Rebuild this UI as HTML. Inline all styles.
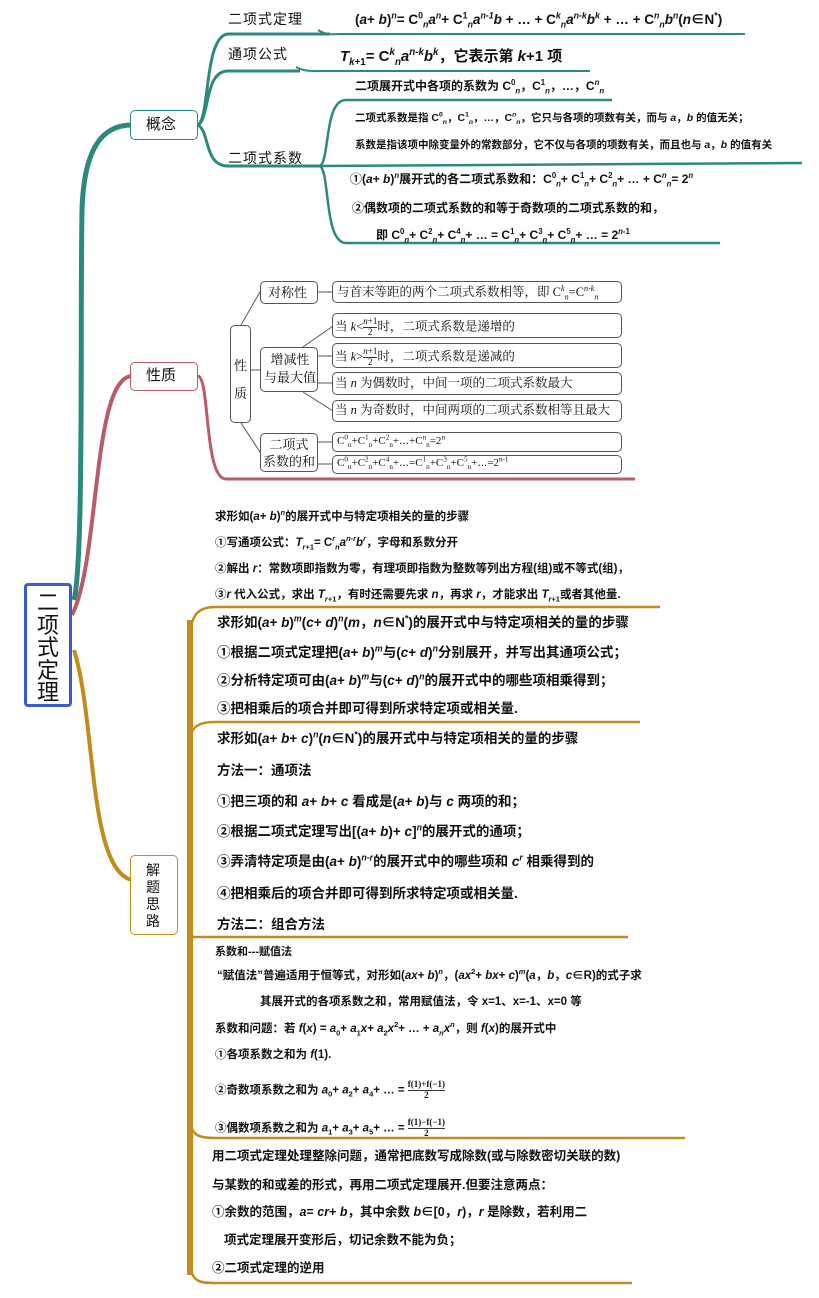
<!DOCTYPE html>
<html><head><meta charset="utf-8">
<style>
body{margin:0;width:819px;height:1298px;background:#fff;position:relative;overflow:hidden;font-family:"Liberation Sans","Noto Sans CJK SC",sans-serif;color:#111}
.t{position:absolute;white-space:nowrap;line-height:1}
.b{font-weight:bold}
.s{font-family:"Liberation Serif","Noto Serif CJK SC",serif}
sub,sup{font-size:65%;line-height:0}
.box{position:absolute;border:1.5px solid #555;border-radius:5px;background:#fff;box-sizing:border-box}
i{font-style:italic}
.frac{display:inline-block;vertical-align:middle;text-align:center;font-size:9px;line-height:1.1}
.frac span{display:block}
.frac span:first-child{border-bottom:1px solid #333}
</style></head><body>
<svg width="819" height="1298" style="position:absolute;left:0;top:0" fill="none">
<path d="M74,600 C84,560 80,320 82,210 C84,145 104,125 132,125" stroke="#2b8a7e" stroke-width="5"/>
<path d="M198,125 C210,118 204,36 228,34 L330,34" stroke="#2b8a7e" stroke-width="3"/>
<path d="M318,30 C328,36 332,34 342,34 L745,34" stroke="#2b8a7e" stroke-width="2"/>
<path d="M198,125 C210,118 204,71 228,71 L300,71" stroke="#2b8a7e" stroke-width="3"/>
<path d="M296,67 C306,72 312,71 322,71 L590,71" stroke="#2b8a7e" stroke-width="2"/>
<path d="M198,125 C210,132 204,166 228,166 L320,166" stroke="#2b8a7e" stroke-width="3"/>
<path d="M320,166 C330,160 324,100 346,100 L612,100" stroke="#2b8a7e" stroke-width="2.5"/>
<path d="M320,166 L802,163" stroke="#2b8a7e" stroke-width="2.5"/>
<path d="M320,166 C330,172 324,243 346,243 L720,243" stroke="#2b8a7e" stroke-width="2.5"/>
<path d="M72,615 C100,560 92,378 132,376" stroke="#b85c66" stroke-width="4"/>
<path d="M198,376 C210,378 204,479 226,479 L635,479" stroke="#b85c66" stroke-width="3"/>
<g stroke="#555" stroke-width="1">
<path d="M241,325 L260,292"/><path d="M251,370 L260,370"/><path d="M241,423 L262,455"/>
<path d="M318,292 L332,292"/>
<path d="M303,347 L333,326"/><path d="M318,356 L333,356"/><path d="M318,383 L333,383"/><path d="M303,392 L333,411"/>
<path d="M318,442 L333,442"/><path d="M318,464 L333,464"/>
</g>
<path d="M74,650 C96,720 88,870 132,880" stroke="#c18c1c" stroke-width="4"/>
<path d="M190,620 L190,1275" stroke="#c18c1c" stroke-width="6"/>
<path d="M190,640 C190,615 198,607 215,607 L660,607" stroke="#c18c1c" stroke-width="2.5"/>
<path d="M190,745 C190,728 196,722 215,722 L640,722" stroke="#c18c1c" stroke-width="2.5"/>
<path d="M190,937 L628,937" stroke="#c18c1c" stroke-width="2.5"/>
<path d="M190,1120 C191,1136 200,1138 215,1138 L685,1138" stroke="#c18c1c" stroke-width="2.5"/>
<path d="M190,1265 C192,1282 200,1283 215,1283 L632,1283" stroke="#c18c1c" stroke-width="2.5"/>
</svg>

<div class="box" style="left:24px;top:583px;width:48px;height:124px;border:3.5px solid #3a5cc8;border-radius:4px"></div>
<div class="t" style="left:37px;top:592px;font-size:22px;line-height:22.5px;white-space:normal;width:24px">二项式定理</div>

<div class="box" style="left:130px;top:110px;width:68px;height:30px;border-color:#2b8a7e"></div>
<div class="t" style="left:146px;top:117px;font-size:15px">概念</div>
<div class="t" style="left:228px;top:12px;font-size:14px;letter-spacing:1px">二项式定理</div>
<div class="t" style="left:228px;top:47px;font-size:14px;letter-spacing:1px">通项公式</div>
<div class="t" style="left:228px;top:151px;font-size:14px;letter-spacing:1px">二项式系数</div>
<div class="t b" style="left:355px;top:13px;font-size:13.5px">(<i>a</i>+ <i>b</i>)<sup><i>n</i></sup>= C<sup>0</sup><sub><i>n</i></sub><i>a<sup>n</sup></i>+ C<sup>1</sup><sub><i>n</i></sub><i>a<sup>n-1</sup>b</i> + … + C<sup><i>k</i></sup><sub><i>n</i></sub><i>a<sup>n-k</sup>b<sup>k</sup></i> + … + C<sup><i>n</i></sup><sub><i>n</i></sub><i>b<sup>n</sup></i>(<i>n</i>∈N<sup>*</sup>)</div>
<div class="t b" style="left:340px;top:49px;font-size:15px"><i>T</i><sub><i>k</i>+1</sub>= C<sup><i>k</i></sup><sub><i>n</i></sub><i>a<sup>n-k</sup>b<sup>k</sup></i>，它表示第 <i>k</i>+1 项</div>
<div class="t b" style="left:355px;top:80px;font-size:12px">二项展开式中各项的系数为 C<sup>0</sup><sub><i>n</i></sub>，C<sup>1</sup><sub><i>n</i></sub>，…，C<sup><i>n</i></sup><sub><i>n</i></sub></div>
<div class="t b" style="left:355px;top:113px;font-size:10.5px">二项式系数是指 C<sup>0</sup><sub><i>n</i></sub>，C<sup>1</sup><sub><i>n</i></sub>，…，C<sup><i>n</i></sup><sub><i>n</i></sub>，它只与各项的项数有关，而与 <i>a</i>，<i>b</i> 的值无关；</div>
<div class="t b" style="left:355px;top:140px;font-size:10.5px">系数是指该项中除变量外的常数部分，它不仅与各项的项数有关，而且也与 <i>a</i>，<i>b</i> 的值有关</div>
<div class="t b" style="left:350px;top:173px;font-size:12px">①(<i>a</i>+ <i>b</i>)<sup><i>n</i></sup>展开式的各二项式系数和：C<sup>0</sup><sub><i>n</i></sub>+ C<sup>1</sup><sub><i>n</i></sub>+ C<sup>2</sup><sub><i>n</i></sub>+ … + C<sup><i>n</i></sup><sub><i>n</i></sub>= 2<sup><i>n</i></sup></div>
<div class="t b" style="left:352px;top:202px;font-size:12px">②偶数项的二项式系数的和等于奇数项的二项式系数的和，</div>
<div class="t b" style="left:376px;top:229px;font-size:12px">即 C<sup>0</sup><sub><i>n</i></sub>+ C<sup>2</sup><sub><i>n</i></sub>+ C<sup>4</sup><sub><i>n</i></sub>+ … = C<sup>1</sup><sub><i>n</i></sub>+ C<sup>3</sup><sub><i>n</i></sub>+ C<sup>5</sup><sub><i>n</i></sub>+ … = 2<sup><i>n</i>-1</sup></div>

<div class="box" style="left:130px;top:362px;width:68px;height:29px;border-color:#b85c66"></div>
<div class="t" style="left:146px;top:368px;font-size:15px">性质</div>
<div class="box" style="left:230px;top:325px;width:21px;height:98px"></div>
<div class="t s" style="left:234px;top:352px;font-size:13px;line-height:28px;white-space:normal;width:14px">性质</div>
<div class="box" style="left:260px;top:281px;width:58px;height:23px"></div>
<div class="t s" style="left:268px;top:286px;font-size:13px">对称性</div>
<div class="box" style="left:260px;top:347px;width:58px;height:45px"></div>
<div class="t s" style="left:262px;top:351px;font-size:13px;line-height:18px;text-align:center;width:56px;white-space:normal">增减性<br>与最大值</div>
<div class="box" style="left:260px;top:433px;width:58px;height:39px"></div>
<div class="t s" style="left:261px;top:436px;font-size:13px;line-height:17px;text-align:center;width:56px;white-space:normal">二项式<br>系数的和</div>
<div class="box" style="left:332px;top:281px;width:290px;height:22px"></div>
<div class="t s" style="left:337px;top:286px;font-size:12.5px">与首末等距的两个二项式系数相等，即 C<sup><i>k</i></sup><sub><i>n</i></sub>=C<sup><i>n</i>-<i>k</i></sup><sub><i>n</i></sub></div>
<div class="box" style="left:332px;top:313px;width:290px;height:25px"></div>
<div class="t s" style="left:335px;top:317px;font-size:12.5px">当 <i>k</i>&lt;<span class="frac"><span><i>n</i>+1</span><span>2</span></span>时，二项式系数是递增的</div>
<div class="box" style="left:332px;top:343px;width:290px;height:25px"></div>
<div class="t s" style="left:335px;top:347px;font-size:12.5px">当 <i>k</i>&gt;<span class="frac"><span><i>n</i>+1</span><span>2</span></span>时，二项式系数是递减的</div>
<div class="box" style="left:332px;top:372px;width:290px;height:23px"></div>
<div class="t s" style="left:335px;top:377px;font-size:12.5px">当 <i>n</i> 为偶数时，中间一项的二项式系数最大</div>
<div class="box" style="left:332px;top:400px;width:290px;height:22px"></div>
<div class="t s" style="left:335px;top:404px;font-size:12.5px">当 <i>n</i> 为奇数时，中间两项的二项式系数相等且最大</div>
<div class="box" style="left:332px;top:432px;width:290px;height:20px"></div>
<div class="t s" style="left:337px;top:436px;font-size:11px">C<sup>0</sup><sub>n</sub>+C<sup>1</sup><sub>n</sub>+C<sup>2</sup><sub>n</sub>+⋯+C<sup>n</sup><sub>n</sub>=2<sup>n</sup></div>
<div class="box" style="left:332px;top:455px;width:290px;height:19px"></div>
<div class="t s" style="left:337px;top:458px;font-size:11px">C<sup>0</sup><sub>n</sub>+C<sup>2</sup><sub>n</sub>+C<sup>4</sup><sub>n</sub>+⋯=C<sup>1</sup><sub>n</sub>+C<sup>3</sup><sub>n</sub>+C<sup>5</sup><sub>n</sub>+⋯=2<sup>n-1</sup></div>

<div class="t b" style="left:215px;top:512px;font-size:11.5px">求形如(<i>a</i>+ <i>b</i>)<sup><i>n</i></sup>的展开式中与特定项相关的量的步骤</div>
<div class="t b" style="left:215px;top:538px;font-size:11.5px">①写通项公式：<i>T</i><sub><i>r</i>+1</sub>= C<sup><i>r</i></sup><sub><i>n</i></sub><i>a<sup>n-r</sup>b<sup>r</sup></i>，字母和系数分开</div>
<div class="t b" style="left:215px;top:564px;font-size:11.5px">②解出 <i>r</i>：常数项即指数为零，有理项即指数为整数等列出方程(组)或不等式(组)，</div>
<div class="t b" style="left:215px;top:590px;font-size:11.5px">③<i>r</i> 代入公式，求出 <i>T</i><sub><i>r</i>+1</sub>，有时还需要先求 <i>n</i>，再求 <i>r</i>，才能求出 <i>T</i><sub><i>r</i>+1</sub>或者其他量.</div>

<div class="t b" style="left:217px;top:616px;font-size:13.5px">求形如(<i>a</i>+ <i>b</i>)<sup><i>m</i></sup>(<i>c</i>+ <i>d</i>)<sup><i>n</i></sup>(<i>m</i>，<i>n</i>∈N<sup>*</sup>)的展开式中与特定项相关的量的步骤</div>
<div class="t b" style="left:217px;top:646px;font-size:13.5px">①根据二项式定理把(<i>a</i>+ <i>b</i>)<sup><i>m</i></sup>与(<i>c</i>+ <i>d</i>)<sup><i>n</i></sup>分别展开，并写出其通项公式；</div>
<div class="t b" style="left:217px;top:674px;font-size:13.5px">②分析特定项可由(<i>a</i>+ <i>b</i>)<sup><i>m</i></sup>与(<i>c</i>+ <i>d</i>)<sup><i>n</i></sup>的展开式中的哪些项相乘得到；</div>
<div class="t b" style="left:217px;top:702px;font-size:13.5px">③把相乘后的项合并即可得到所求特定项或相关量.</div>

<div class="t b" style="left:217px;top:732px;font-size:13.5px">求形如(<i>a</i>+ <i>b</i>+ <i>c</i>)<sup><i>n</i></sup>(<i>n</i>∈N<sup>*</sup>)的展开式中与特定项相关的量的步骤</div>
<div class="t b" style="left:217px;top:764px;font-size:13.5px">方法一：通项法</div>
<div class="t b" style="left:217px;top:795px;font-size:13.5px">①把三项的和 <i>a</i>+ <i>b</i>+ <i>c</i> 看成是(<i>a</i>+ <i>b</i>)与 <i>c</i> 两项的和；</div>
<div class="t b" style="left:217px;top:825px;font-size:13.5px">②根据二项式定理写出[(<i>a</i>+ <i>b</i>)+ <i>c</i>]<sup><i>n</i></sup>的展开式的通项；</div>
<div class="t b" style="left:217px;top:855px;font-size:13.5px">③弄清特定项是由(<i>a</i>+ <i>b</i>)<sup><i>n-r</i></sup>的展开式中的哪些项和 <i>c<sup>r</sup></i> 相乘得到的</div>
<div class="t b" style="left:217px;top:887px;font-size:13.5px">④把相乘后的项合并即可得到所求特定项或相关量.</div>
<div class="t b" style="left:217px;top:918px;font-size:13.5px">方法二：组合方法</div>

<div class="box" style="left:130px;top:855px;width:48px;height:80px;border-color:#c18c1c"></div>
<div class="t" style="left:146px;top:862px;font-size:14px;line-height:17px;white-space:normal;width:16px">解题思路</div>

<div class="t b" style="left:215px;top:947px;font-size:11px">系数和---赋值法</div>
<div class="t b" style="left:217px;top:971px;font-size:11.5px">“赋值法”普遍适用于恒等式，对形如(<i>ax</i>+ <i>b</i>)<sup><i>n</i></sup>，(<i>ax</i><sup>2</sup>+ <i>bx</i>+ <i>c</i>)<sup><i>m</i></sup>(<i>a</i>，<i>b</i>，<i>c</i>∈R)的式子求</div>
<div class="t b" style="left:260px;top:997px;font-size:11.5px">其展开式的各项系数之和，常用赋值法，令 x=1、x=-1、x=0 等</div>
<div class="t b" style="left:215px;top:1024px;font-size:11.5px">系数和问题：若 <i>f</i>(<i>x</i>) = <i>a</i><sub>0</sub>+ <i>a</i><sub>1</sub><i>x</i>+ <i>a</i><sub>2</sub><i>x</i><sup>2</sup>+ … + <i>a<sub>n</sub>x<sup>n</sup></i>，则 <i>f</i>(<i>x</i>)的展开式中</div>
<div class="t b" style="left:215px;top:1050px;font-size:11.5px">①各项系数之和为 <i>f</i>(1).</div>
<div class="t b" style="left:215px;top:1080px;font-size:11.5px">②奇数项系数之和为 <i>a</i><sub>0</sub>+ <i>a</i><sub>2</sub>+ <i>a</i><sub>4</sub>+ … = <span class="frac s"><span>f(1)+f(−1)</span><span>2</span></span></div>
<div class="t b" style="left:215px;top:1118px;font-size:11.5px">③偶数项系数之和为 <i>a</i><sub>1</sub>+ <i>a</i><sub>3</sub>+ <i>a</i><sub>5</sub>+ … = <span class="frac s"><span>f(1)−f(−1)</span><span>2</span></span></div>

<div class="t b" style="left:212px;top:1150px;font-size:12.5px">用二项式定理处理整除问题，通常把底数写成除数(或与除数密切关联的数)</div>
<div class="t b" style="left:212px;top:1179px;font-size:12.5px">与某数的和或差的形式，再用二项式定理展开.但要注意两点：</div>
<div class="t b" style="left:212px;top:1206px;font-size:12.5px">①余数的范围，<i>a</i>= <i>cr</i>+ <i>b</i>，其中余数 <i>b</i>∈[0，<i>r</i>)，<i>r</i> 是除数，若利用二</div>
<div class="t b" style="left:224px;top:1234px;font-size:12.5px">项式定理展开变形后，切记余数不能为负；</div>
<div class="t b" style="left:212px;top:1262px;font-size:12.5px">②二项式定理的逆用</div>
</body></html>
